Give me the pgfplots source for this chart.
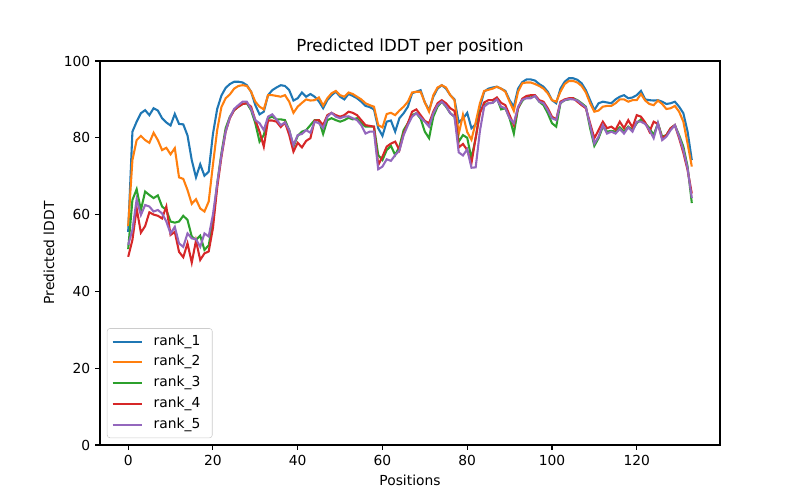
\documentclass[border=0pt]{standalone}
\usepackage{pgfplots}
\usepackage{pgfplotstable}
\usepackage{fontspec}
\setmainfont{DejaVu Sans}
\pgfplotsset{compat=1.18}
\definecolor{c1}{HTML}{1F77B4}
\definecolor{c2}{HTML}{FF7F0E}
\definecolor{c3}{HTML}{2CA02C}
\definecolor{c4}{HTML}{D62728}
\definecolor{c5}{HTML}{9467BD}
\pgfplotstableread{
x r1 r2 r3 r4 r5
0 55.5 57.0 51.0 49.0 52.1
1 81.6 74.2 63.8 53.4 56.0
2 84.2 79.4 66.6 61.6 64.0
3 86.4 80.5 61.2 55.3 59.9
4 87.2 79.4 66.0 57.0 62.5
5 85.9 78.7 65.1 60.6 62.1
6 87.7 81.3 64.3 60.0 60.8
7 87.1 79.4 65.0 59.7 61.2
8 85.1 76.8 62.1 59.0 60.3
9 84.0 77.4 61.2 62.1 58.2
10 83.2 75.7 58.2 54.7 55.1
11 86.2 77.3 57.9 55.5 56.8
12 83.6 69.7 58.2 50.3 52.5
13 83.5 69.3 59.7 48.9 51.6
14 80.6 66.4 58.6 52.5 55.1
15 74.2 62.8 54.3 47.5 53.8
16 69.7 64.0 53.4 53.2 53.6
17 73.1 61.6 54.5 48.2 51.6
18 70.1 60.8 50.8 49.9 55.1
19 71.2 63.4 52.0 50.4 54.3
20 81.0 73.0 58.0 56.5 60.0
21 87.5 82.0 68.0 67.0 68.0
22 91.0 88.0 76.0 75.0 75.5
23 93.0 90.3 82.5 81.6 81.6
24 94.0 91.3 85.5 85.1 85.3
25 94.6 92.8 87.2 87.2 87.5
26 94.6 93.5 88.1 88.1 88.5
27 94.4 93.7 88.8 88.8 89.4
28 93.7 93.5 89.0 89.0 89.4
29 92.0 92.0 87.2 88.1 87.5
30 88.5 89.4 83.8 84.6 84.6
31 86.1 88.1 79.0 81.6 83.8
32 86.8 87.4 80.7 77.7 82.0
33 91.1 91.1 85.1 84.5 85.5
34 92.4 91.1 85.5 84.5 86.1
35 93.1 90.9 84.8 84.2 84.8
36 93.7 90.7 84.8 82.8 83.3
37 93.5 91.1 84.6 84.0 84.0
38 92.4 89.4 82.0 80.7 82.0
39 89.7 86.5 77.7 76.4 78.1
40 90.3 88.1 80.5 78.7 80.7
41 91.8 89.1 81.6 77.5 81.0
42 90.7 90.0 82.0 79.2 82.0
43 91.4 89.7 83.3 79.9 81.3
44 90.7 89.8 84.6 84.5 84.2
45 89.5 90.5 84.6 84.6 83.8
46 87.7 88.4 81.0 83.3 82.5
47 89.8 90.3 84.6 85.9 85.5
48 91.1 91.6 85.1 86.5 86.5
49 92.0 92.2 84.6 85.9 85.5
50 90.7 91.1 84.2 85.5 85.1
51 90.0 90.7 84.6 85.9 85.5
52 91.4 91.8 85.2 86.8 85.6
53 90.9 91.4 84.8 86.5 85.1
54 90.3 90.7 85.1 85.9 84.6
55 89.4 90.0 83.8 84.6 83.3
56 88.3 89.0 82.9 83.3 81.1
57 88.0 88.5 82.9 83.1 81.6
58 87.4 88.1 82.9 82.9 81.6
59 82.5 83.3 75.5 72.9 71.8
60 80.5 82.7 74.2 75.1 72.5
61 84.2 86.2 76.8 77.7 74.4
62 84.5 86.5 77.9 78.5 74.0
63 81.6 85.9 75.5 79.0 75.5
64 85.1 87.1 77.7 76.8 76.7
65 86.4 88.1 82.0 81.1 80.7
66 88.1 89.4 83.8 83.8 83.3
67 91.6 91.8 85.9 86.8 85.5
68 92.0 92.0 86.4 87.4 86.4
69 92.4 92.0 85.0 85.9 85.3
70 89.2 89.2 81.6 84.4 84.2
71 87.2 86.8 79.9 83.8 82.9
72 90.7 91.1 85.5 86.8 86.4
73 92.8 93.1 88.1 89.0 88.5
74 93.7 93.7 89.4 89.8 89.4
75 92.8 93.1 88.1 89.0 88.3
76 91.1 91.1 86.4 87.7 86.4
77 90.0 89.8 85.5 87.0 85.5
78 84.0 81.0 79.0 77.5 76.2
79 85.0 86.0 80.7 78.4 75.4
80 86.5 81.5 80.0 76.8 77.0
81 82.5 79.5 74.6 73.4 72.2
82 83.5 84.0 80.0 80.0 72.3
83 88.0 89.0 86.8 86.4 81.8
84 92.0 92.2 88.5 89.2 88.1
85 92.8 92.5 89.0 89.8 89.0
86 93.1 92.8 89.1 89.8 89.1
87 93.3 93.3 90.3 90.5 90.0
88 92.8 92.8 87.4 89.1 88.1
89 92.2 92.0 87.7 88.5 87.7
90 89.8 89.4 85.1 85.9 85.1
91 88.1 87.0 81.1 83.3 83.8
92 92.8 92.0 87.7 87.7 88.1
93 94.5 94.2 89.6 90.2 89.9
94 95.2 94.4 90.7 90.9 90.3
95 95.2 94.4 90.5 91.1 90.3
96 94.9 94.0 90.9 91.1 90.9
97 94.0 93.5 89.4 89.8 89.4
98 93.3 92.8 88.5 89.4 89.0
99 92.0 91.6 86.4 87.7 87.2
100 89.8 89.8 83.8 85.5 85.1
101 89.0 89.4 82.9 84.8 84.6
102 92.8 92.0 89.0 89.4 89.1
103 94.6 94.0 89.8 90.0 89.8
104 95.5 94.8 90.0 90.3 90.1
105 95.5 94.8 90.3 90.3 90.0
106 95.1 94.4 89.8 89.4 89.7
107 94.2 93.5 89.0 88.5 88.8
108 92.4 91.8 88.1 87.7 87.9
109 89.8 89.0 82.5 83.8 83.3
110 87.2 86.8 77.9 79.9 78.5
111 89.0 87.1 79.9 82.0 80.3
112 89.4 88.1 82.9 84.2 83.3
113 89.2 88.3 81.6 82.5 81.1
114 89.0 88.3 81.8 82.9 81.6
115 90.0 89.0 81.6 82.1 81.1
116 90.7 90.0 82.7 84.2 82.3
117 91.1 90.0 81.6 82.5 81.1
118 90.3 89.4 82.9 84.6 82.7
119 90.5 89.8 82.0 82.7 81.6
120 91.1 89.8 83.8 85.9 84.2
121 92.2 91.4 84.8 85.5 84.2
122 90.0 89.7 83.8 84.0 83.6
123 89.8 88.8 82.5 81.6 82.0
124 89.7 88.5 80.7 84.2 79.9
125 89.8 89.7 83.8 83.6 83.8
126 89.4 88.8 80.3 79.9 79.4
127 88.8 87.5 80.7 80.7 80.3
128 89.0 87.7 82.5 82.5 82.0
129 89.4 88.3 83.3 83.3 83.3
130 88.1 86.8 80.7 79.9 80.3
131 86.4 84.2 77.7 76.1 76.8
132 81.6 78.5 72.5 71.6 72.0
133 74.2 72.5 63.0 65.5 64.3
}\data
\begin{document}
\begin{tikzpicture}
\path[use as bounding box] (0,0) rectangle (8in,5in);
\begin{axis}[
  at={(1in,0.55in)}, anchor=south west,
  scale only axis, width=6.2in, height=3.84in,
  xmin=-6.65, xmax=139.65, ymin=0, ymax=100,
  xtick={0,20,...,120}, ytick={0,20,...,100},
  xtick pos=left, ytick pos=left,
  tick align=outside, major tick length=3.5pt,
  every tick/.style={black, line width=0.8pt},
  axis line style={line width=0.8pt},
  tick label style={font=\fontsize{10}{12}\selectfont},
  /pgf/number format/assume math mode=true,
  xlabel={Positions}, ylabel={Predicted lDDT},
  label style={font=\fontsize{10}{12}\selectfont},
  title={Predicted lDDT per position},
  title style={font=\fontsize{12}{14}\selectfont, yshift=-5.3pt},
  legend cell align=left,
  legend image code/.code={\draw[#1] (0pt,0pt) -- (20.9pt,0pt);},
  legend style={at={(0,0)}, anchor=south west, xshift=5pt, yshift=5pt,
    draw={rgb,255:red,204;green,204;blue,204}, rounded corners=2pt,
    fill=white, fill opacity=0.8, text opacity=1, inner xsep=3.2pt, inner ysep=2pt,
    font=\fontsize{10}{12}\selectfont,
    nodes={inner xsep=0pt, inner ysep=2.5pt, text height=7.5pt, text depth=2.5pt},
    /tikz/every odd column/.append style={column sep=8pt}},
]
\addplot[c1, line width=1.5pt] table[x=x, y=r1] {\data};
\addlegendentry{rank\_1\rule{5.4pt}{0pt}}
\addplot[c2, line width=1.5pt] table[x=x, y=r2] {\data};
\addlegendentry{rank\_2\rule{5.4pt}{0pt}}
\addplot[c3, line width=1.5pt] table[x=x, y=r3] {\data};
\addlegendentry{rank\_3\rule{5.4pt}{0pt}}
\addplot[c4, line width=1.5pt] table[x=x, y=r4] {\data};
\addlegendentry{rank\_4\rule{5.4pt}{0pt}}
\addplot[c5, line width=1.5pt] table[x=x, y=r5] {\data};
\addlegendentry{rank\_5\rule{5.4pt}{0pt}}
\end{axis}
\end{tikzpicture}
\end{document}
